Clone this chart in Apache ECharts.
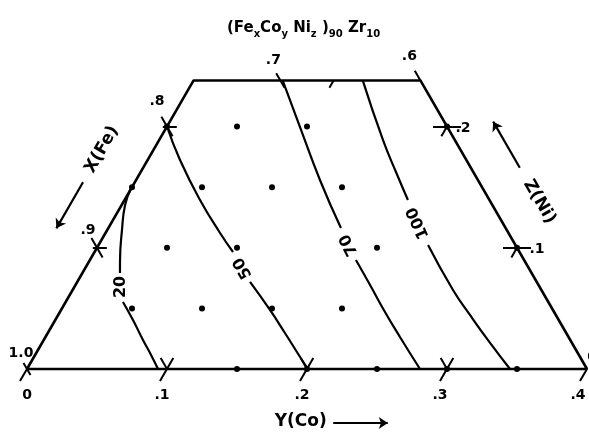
<!DOCTYPE html>
<html><head><meta charset="utf-8">
<script src="https://cdn.jsdelivr.net/npm/echarts@6/dist/echarts.min.js"></script>
<style>html,body{margin:0;padding:0;background:#fff}#c{width:589px;height:435px}</style>
</head><body><div id="c"></div>
<script>
// Compositions are written as [Y(Co), Z(Ni)]; X(Fe) = 1 - Y - Z
const yTicks = [0, 0.1, 0.2, 0.3, 0.4];
const yTickLabels = ['0', '.1', '.2', '.3', '.4'];
const xLeftTicks = [1.0, 0.9, 0.8];
const xLeftLabels = ['1.0', '.9', '.8'];
const xTopTicks = [0.7, 0.6];
const xTopLabels = ['.7', '.6'];
const zRightTicks = [0.2, 0.1, 0];
const zRightLabels = ['.2', '.1', '0'];
const X_RIGHT = 0.6;   // right boundary X = 0.6
const Z_TOP = 0.238;   // top boundary

const samples = [
  [0.05, 0.2], [0.1, 0.2], [0, 0.2], [0.2, 0.2],
  [0, 0.15], [0.05, 0.15], [0.1, 0.15], [0.15, 0.15],
  [0.05, 0.1], [0.1, 0.1], [0.2, 0.1], [0.3, 0.1],
  [0.05, 0.05], [0.1, 0.05], [0.15, 0.05], [0.2, 0.05],
  [0.15, 0], [0.25, 0], [0.35, 0], [0.2, 0], [0.3, 0]
];

const contourLevels = ['20', '50', '70', '100'];
const contour20 = [[0, 0.148], [0.0024, 0.1353], [0.0105, 0.1147], [0.0215, 0.0899], [0.0268, 0.0792], null,
  [0.0409, 0.0553], [0.0555, 0.0404], [0.0709, 0.0239], [0.0828, 0.0116], [0.0936, 0]];
const contour50 = [[0, 0.2], [0.0231, 0.1724], [0.0539, 0.1394], [0.0818, 0.1122], [0.0989, 0.0965], null,
  [0.1234, 0.0718], [0.1492, 0.0487], [0.1694, 0.0297], [0.1901, 0.0099], [0.2007, 0]];
const contour70 = [[0.0636, 0.238], [0.0951, 0.1997], [0.1313, 0.1559], [0.1661, 0.1163], null,
  [0.190, 0.0899], [0.2104, 0.0693], [0.2322, 0.047], [0.2532, 0.0264], [0.2807, 0]];
const contour100 = [[0.1208, 0.238], [0.1598, 0.1889], [0.1823, 0.1625], [0.2024, 0.1394], null,
  [0.2353, 0.1023], [0.2717, 0.0652], [0.2941, 0.0446], [0.32, 0.0215], [0.345, 0]];
const contours = [contour20, contour50, contour70, contour100];

// ---- layout (annotation anchors and styles) ----
const layout = {
  contourLabelAt: [[0.0333, 0.0677], [0.1126, 0.0833], [0.1789, 0.1023], [0.2191, 0.1205]],
  contourLabelRot: [90, 120, 117, 114],
  bottomOff: [[0, 26], [-5, 26], [-5, 26], [-7, 26], [-9, 26]],
  leftOff: [[-6, -16], [-9, -17], [-10, -25]],
  topOff: [[-7, -20], [-11, -24]],
  rightOff: [[16, 2], [20, 2], [5, -12]],
  nameX: { at: [-0.037, 0.181], rot: 60, arrow: [[-0.037, 0.154], [-0.037, 0.116]] },
  nameZ: { at: [0.297, 0.138], rot: -60, arrow: [[0.269, 0.166], [0.231, 0.204]] },
  nameY: { at: [0.217, -0.043], rot: 0, arrow: [[0.241, -0.0446], [0.280, -0.0446]] }
};

const S3 = Math.sqrt(3) / 2;
const T = p => [p[0] + p[1] / 2, p[1] * S3];
const INK = '#000';
const FONT = 'DejaVu Sans';

function segments(arr) {
  const out = []; let cur = [];
  arr.forEach(p => { if (p === null) { if (cur.length) out.push(cur); cur = []; } else cur.push(p); });
  if (cur.length) out.push(cur);
  return out;
}

// tick segments
const tickSegs = [];
yTicks.forEach(t => {
  const up = (t > 0 && t < 0.4) ? 0.009 : 0;
  tickSegs.push([[t, -0.010], [t, up]]);
  if (t > 0 && t < 0.4) tickSegs.push([[t, 0], [t - 0.009, 0.009]]);
});
xLeftTicks.forEach(x => {
  const z = 1 - x;
  if (z === 0) { tickSegs.push([[-0.005, 0.005], [0.005, -0.005]]); return; }
  tickSegs.push([[-0.008, z + 0.008], [0.008, z - 0.008]]);
  tickSegs.push([[-0.003, z], [0.007, z]]);
});
xTopTicks.forEach(x => {
  const y0 = 1 - x - Z_TOP;
  if (x === X_RIGHT) tickSegs.push([[y0, Z_TOP], [y0 - 0.008, Z_TOP + 0.008]]);
  else tickSegs.push([[y0 - 0.006, Z_TOP + 0.006], [y0 + 0.006, Z_TOP - 0.006]]);
});
tickSegs.push([[0.1, Z_TOP], [0.1, Z_TOP - 0.006]]);
zRightTicks.forEach(z => {
  if (z === 0) return;
  const y = 1 - X_RIGHT - z;
  tickSegs.push([[y - 0.01, z], [y + 0.01, z]]);
  tickSegs.push([[y, z], [y, z - 0.008]]);
});

const series = [];
const solid = { color: INK, opacity: 1 };
// outline
series.push({
  type: 'line', data: [[0, 0], [1 - X_RIGHT, 0], [1 - X_RIGHT - Z_TOP, Z_TOP], [0, Z_TOP], [0, 0]].map(T),
  symbol: 'none', lineStyle: { color: INK, width: 2.6 }, clip: false, silent: true, z: 3
});
// ticks
series.push({
  type: 'lines', coordinateSystem: 'cartesian2d', clip: false, silent: true,
  data: tickSegs.map(s => ({ coords: s.map(T) })),
  lineStyle: { color: INK, width: 2, opacity: 1 }, z: 3
});
// contours
contours.forEach(c => {
  segments(c).forEach(seg => series.push({
    type: 'line', data: seg.map(T), smooth: 0.5, symbol: 'none', clip: false, silent: true,
    lineStyle: { color: INK, width: 2.2 }, z: 2
  }));
});
// sample dots
series.push({
  type: 'scatter', data: samples.map(T), symbolSize: 6, itemStyle: solid,
  clip: false, silent: true, z: 4
});
const labelBase = { show: true, position: 'inside', formatter: '{b}', color: INK, opacity: 1, fontWeight: 'bold', fontFamily: FONT };
// contour labels
series.push({
  type: 'scatter', symbolSize: 0, clip: false, silent: true, z: 5, itemStyle: solid,
  data: contourLevels.map((lv, i) => ({
    value: T(layout.contourLabelAt[i]), name: lv,
    label: { rotate: layout.contourLabelRot[i] }
  })),
  label: Object.assign({}, labelBase, { fontSize: 16 })
});
// tick labels
function tickLabelData(points, labels, offs) {
  return points.map((p, i) => ({ value: T(p), name: labels[i], label: { offset: offs[i] } }));
}
const tickLabels = [].concat(
  tickLabelData(yTicks.map(t => [t, 0]), yTickLabels, layout.bottomOff),
  tickLabelData(xLeftTicks.map(x => [0, 1 - x]), xLeftLabels, layout.leftOff),
  tickLabelData(xTopTicks.map(x => [1 - x - Z_TOP, Z_TOP]), xTopLabels, layout.topOff),
  tickLabelData(zRightTicks.map(z => [1 - X_RIGHT - z, z]), zRightLabels, layout.rightOff)
);
series.push({
  type: 'scatter', symbolSize: 0, clip: false, silent: true, z: 5, data: tickLabels, itemStyle: solid,
  label: Object.assign({}, labelBase, { fontSize: 14 })
});
// axis names
const names = [['X(Fe)', layout.nameX], ['Z(Ni)', layout.nameZ], ['Y(Co)', layout.nameY]];
series.push({
  type: 'scatter', symbolSize: 0, clip: false, silent: true, z: 5, itemStyle: solid,
  data: names.map(n => ({ value: T(n[1].at), name: n[0], label: { rotate: n[1].rot } })),
  label: Object.assign({}, labelBase, { fontSize: 17 })
});
series.push({
  type: 'lines', coordinateSystem: 'cartesian2d', clip: false, silent: true, z: 5,
  symbol: ['none', 'arrow'], symbolSize: 9,
  data: names.map(n => ({ coords: n[1].arrow.map(T) })),
  lineStyle: { color: INK, width: 2.2, opacity: 1 }, itemStyle: solid
});

const chart = echarts.init(document.getElementById('c'), null, { renderer: 'canvas' });
chart.setOption({
  animation: false,
  backgroundColor: '#fff',
  title: {
    left: 222, top: 16,
    text: '{m|(Fe}{s|x}{m|Co}{s|y}{m| Ni}{s|z}{m| )}{s|90}{m| Zr}{s|10}',
    textStyle: {
      fontWeight: 'bold',
      rich: {
        m: { fontSize: 15, fontFamily: FONT, fontWeight: 'bold', color: INK, lineHeight: 22, verticalAlign: 'top' },
        s: { fontSize: 10, fontFamily: FONT, fontWeight: 'bold', color: INK, lineHeight: 22, padding: [8, 0, 0, 0], verticalAlign: 'top' }
      }
    }
  },
  grid: { left: 27, right: 2, top: 19, bottom: 66 },
  xAxis: { type: 'value', min: 0, max: 0.4, show: false },
  yAxis: { type: 'value', min: 0, max: 0.25, show: false },
  series: series
});
</script></body></html>
